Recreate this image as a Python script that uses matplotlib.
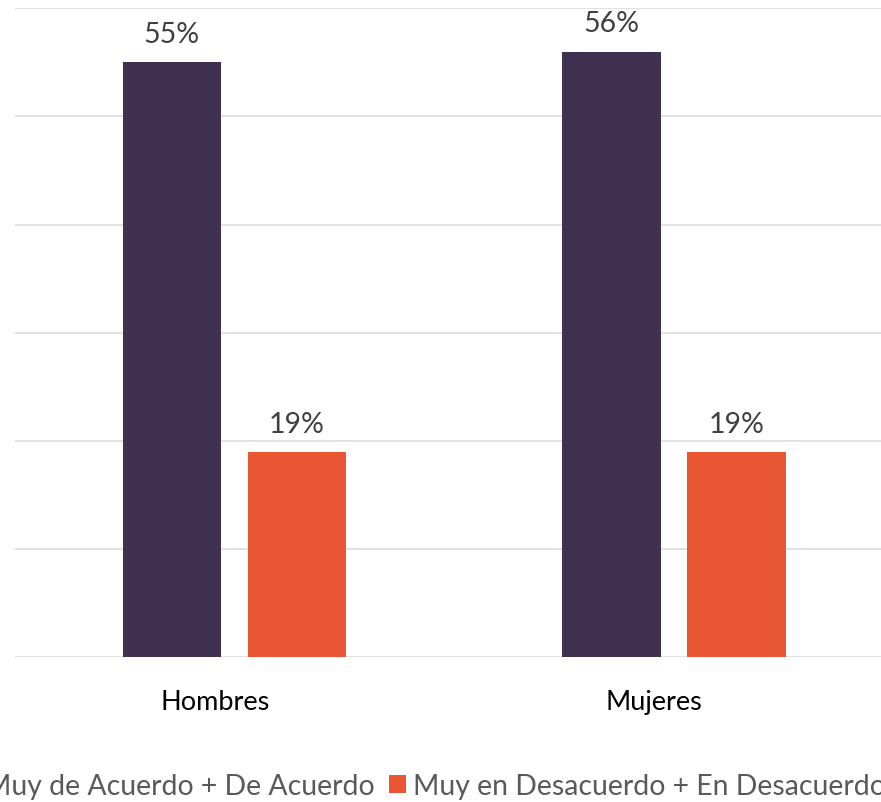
import numpy as np
import matplotlib
matplotlib.use('Agg')
import matplotlib.pyplot as plt

plt.rcParams['font.family'] = ['Lato', 'DejaVu Sans']

categories = ['Hombres', 'Mujeres']
series_names = ['Muy de Acuerdo + De Acuerdo', 'Muy en Desacuerdo + En Desacuerdo']
acuerdo = [55, 56]
desacuerdo = [19, 19]
y_ticks = [0, 10, 20, 30, 40, 50, 60]

purple = '#413150'
orange = '#E85634'

fig = plt.figure(figsize=(8.81, 8.03), dpi=100)
# axes runs a bit past the right edge, like the cropped original
ax = fig.add_axes([0.01674, 0.1802, 0.99773, 0.8082])

x = np.arange(len(categories))
w = 0.2245
off = 0.1425

b1 = ax.bar(x - off, acuerdo, w, color=purple, label=series_names[0], zorder=2)
b2 = ax.bar(x + off, desacuerdo, w, color=orange, label=series_names[1], zorder=2)

for bars in (b1, b2):
    ax.bar_label(bars, labels=[f'{v}%' for v in bars.datavalues],
                 padding=11, fontsize=20.5, color='#404040')

ax.set_xlim(-0.5, 1.5)
ax.set_ylim(0, 60)
ax.set_yticks(y_ticks)
ax.set_yticklabels([])
ax.tick_params(axis='y', length=0)
ax.grid(axis='y', color='#D9D9D9', linewidth=1.1)
ax.set_axisbelow(True)

ax.set_xticks(x - 0.045)
ax.set_xticklabels(categories, fontsize=19.5, color='black')
ax.tick_params(axis='x', length=0, pad=23)

for s in ax.spines.values():
    s.set_visible(False)

fig.legend(handles=[b1, b2], loc='center', bbox_to_anchor=(0.4806, 0.0205),
           ncol=2, frameon=False, fontsize=20.4, labelcolor='#595959',
           handlelength=0.6, handleheight=0.6, handletextpad=0.25,
           columnspacing=0.5, borderpad=0, borderaxespad=0)

fig.savefig('out.png', dpi=100)
